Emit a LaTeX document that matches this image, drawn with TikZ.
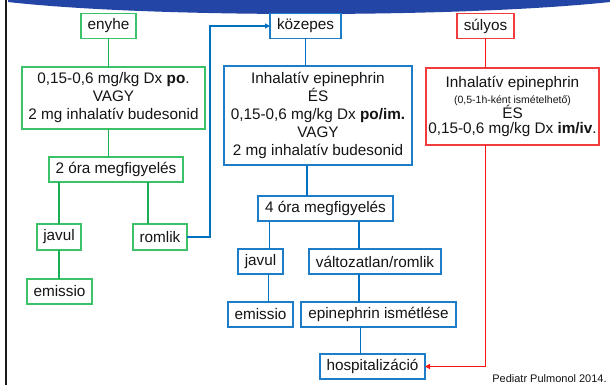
\documentclass[tikz,border=0pt]{standalone}
\usepackage{fontspec}
\setmainfont{Liberation Sans}
\usetikzlibrary{arrows.meta}
\definecolor{banner}{RGB}{35,69,165}
\definecolor{gborder}{RGB}{60,195,105}
\definecolor{gline}{RGB}{25,175,85}
\definecolor{bborder}{RGB}{30,125,200}
\definecolor{bline}{RGB}{0,112,192}
\definecolor{rborder}{RGB}{240,60,60}
\definecolor{rline}{RGB}{250,20,20}
\definecolor{ink}{RGB}{20,20,20}

\begin{document}
\begin{tikzpicture}[x=1pt,y=-1pt,
  every node/.style={inner sep=0pt, outer sep=0pt, text=ink, align=center,
    font=\fontsize{15.3}{18}\selectfont},
  gbox/.style={draw=gborder, line width=1.4pt, fill=white},
  bbox/.style={draw=bborder, line width=1.4pt, fill=white},
  rbox/.style={draw=rborder, line width=1.4pt, fill=white},
  gconn/.style={draw=gline, line width=1.6pt},
  bconn/.style={draw=bline, line width=1.8pt},
  rconn/.style={draw=rline, line width=1.4pt},
  tip/.style={-{Triangle[length=5pt,width=5pt]}}
]
% page and frame
\fill[white] (0,0) rectangle (610,385);
\useasboundingbox (0,0) rectangle (610,385);
\fill[banner] (8,-2) -- (8,2) .. controls (150,18) and (460,18) .. (610,2) -- (610,-2) -- cycle;
\fill[black!90] (5,0) rectangle (7.3,385);

% severity headers
\node[gbox, minimum width=55pt, minimum height=25pt] (enyhe) at (108.5,26) {enyhe};
\node[bbox, minimum width=71pt, minimum height=25pt] (kozepes) at (305.5,26) {közepes};
\node[rbox, minimum width=57pt, minimum height=25pt] (sulyos) at (485.5,26) {súlyos};

% mild branch
\node[gbox, minimum width=183pt, minimum height=62pt] (g1) at (113.5,98)
  {0,15-0,6 mg/kg Dx \textbf{po}.\\VAGY\\2 mg inhalatív budesonid};
\node[gbox, minimum width=134pt, minimum height=25pt] (g2) at (116,169.5) {2 óra megfigyelés};
\node[gbox, minimum width=44pt, minimum height=26pt] (gjavul) at (59,237) {javul};
\node[gbox, minimum width=54pt, minimum height=26pt] (gromlik) at (160,237) {romlik};
\node[gbox, minimum width=65pt, minimum height=25pt] (gemissio) at (59.5,291.5) {emissio};

% moderate branch
\node[bbox, minimum width=188pt, minimum height=99pt] (b1) at (318,115.5)
  {Inhalatív epinephrin\\ÉS\\0,15-0,6 mg/kg Dx \textbf{po/im.}\\VAGY\\2 mg inhalatív budesonid};
\node[bbox, minimum width=135pt, minimum height=25pt] (b2) at (325.5,208.5) {4 óra megfigyelés};
\node[bbox, minimum width=45pt, minimum height=25pt] (bjavul) at (260.5,261.5) {javul};
\node[bbox, minimum width=132pt, minimum height=25pt] (bvalt) at (375,261.5) {változatlan/romlik};
\node[bbox, minimum width=65pt, minimum height=25pt] (bemissio) at (260.5,314.5) {emissio};
\node[bbox, minimum width=155pt, minimum height=25pt] (bepi) at (378.5,314.5) {epinephrin ismétlése};
\node[bbox, minimum width=105pt, minimum height=25pt] (hosp) at (372.5,366.5) {hospitalizáció};

% severe branch
\node[rbox, minimum width=173pt, minimum height=77pt, font=\fontsize{15.3}{16}\selectfont] (r1) at (512.5,106.5)
  {Inhalatív epinephrin\\[-0.5pt]{\fontsize{10.5}{12}\selectfont (0,5-1h-ként ismételhető)}\\[-1pt]ÉS\\[-1pt]0,15-0,6 mg/kg Dx \textbf{im/iv}.};

% source
\node[font=\fontsize{11}{13}\selectfont] (src) at (549.5,379) {Pediatr Pulmonol 2014.};

% mild connectors
\draw[gconn] (enyhe.south) -- (enyhe.south |- g1.north);
\draw[gconn] (enyhe.south |- g1.south) -- (enyhe.south |- g2.north);
\draw[gconn] (gjavul.north) -- (gjavul.north |- g2.south);
\draw[gconn] ([xshift=-12pt]gromlik.north) -- ([xshift=-12pt]gromlik.north |- g2.south);
\draw[gconn] (gjavul.south) -- (gjavul.south |- gemissio.north);

% worsening mild case escalates to moderate
\coordinate (esc) at (210,26);
\draw[bconn, tip] (gromlik.east) -| (esc) -- (kozepes.west);

% moderate connectors
\draw[bconn] (kozepes.south) -- (kozepes.south |- b1.north);
\draw[bconn] ([xshift=1.5pt]kozepes.south |- b1.south) -- ([xshift=1.5pt]kozepes.south |- b2.north);
\draw[bconn] ([xshift=9pt]bjavul.north) -- ([xshift=9pt]bjavul.north |- b2.south);
\draw[bconn] ([xshift=8pt]bjavul.south) -- ([xshift=8pt]bjavul.south |- bemissio.north);
\draw[bconn] ([xshift=-16pt]bvalt.north) -- ([xshift=-16pt]bvalt.north |- b2.south);
\draw[bconn] ([xshift=-16pt]bvalt.south) -- ([xshift=-16pt]bvalt.south |- bepi.north);
\draw[bconn] ([xshift=-18pt]bepi.south) -- ([xshift=-18pt]bepi.south |- hosp.north);

% severe connectors
\draw[rconn] (sulyos.south) -- (sulyos.south |- r1.north);
\draw[rconn, tip] (sulyos.south |- r1.south) |- (hosp.east);
\end{tikzpicture}
\end{document}
